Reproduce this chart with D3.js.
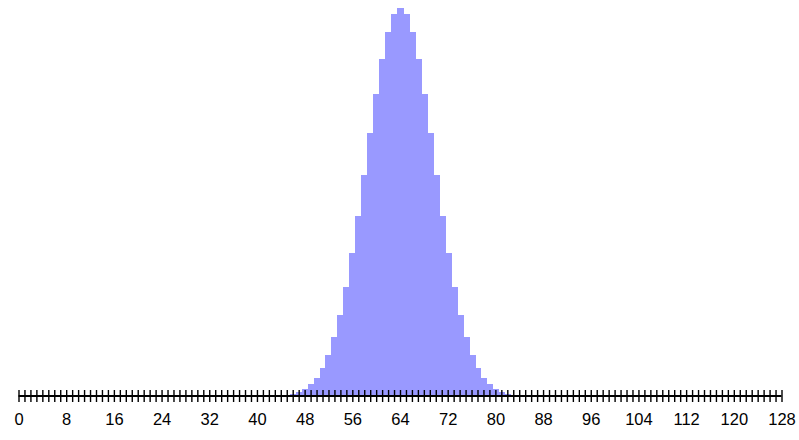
<!DOCTYPE html>
<html><head><meta charset="utf-8">
<script src="https://cdn.jsdelivr.net/npm/d3@7"></script>
<style>body{margin:0;background:#fff}svg{display:block}</style>
</head><body>
<script>
// categories 0..128, values (zero outside 44..84)
const firstNonZero = 44;
const probs = [0.00013,0.00025,0.00044,0.00077,0.0013,0.0021,0.0033,0.0050,0.0074,0.0106,
  0.0147,0.0198,0.0259,0.0327,0.0401,0.0476,0.0547,0.0611,0.0660,0.0692,0.0703,
  0.0692,0.0660,0.0611,0.0547,0.0476,0.0401,0.0327,0.0259,0.0198,0.0147,
  0.0106,0.0074,0.0050,0.0033,0.0021,0.0013,0.00077,0.00044,0.00025,0.00013];
const tickLabels = [0,8,16,24,32,40,48,56,64,72,80,88,96,104,112,120,128];
const nMax = 128;

const categories = d3.range(0, nMax + 1);
const data = categories.map(k => ({k, v: (k >= firstNonZero && k < firstNonZero + probs.length) ? probs[k - firstNonZero] : 0}));

const W = 799, H = 440;
const svg = d3.select("body").append("svg").attr("width", W).attr("height", H);
const x = d3.scaleLinear().domain([0, nMax]).range([18.5, 781.5]);
const bw = x(1) - x(0);
const y = d3.scaleLinear().domain([0, 0.0703]).range([396, 8]);

svg.append("g").attr("shape-rendering", "crispEdges")
  .selectAll("rect").data(data.filter(d => d.v > 0)).join("rect")
  .attr("x", d => Math.round(x(d.k) - bw / 2))
  .attr("width", d => Math.round(x(d.k) + bw / 2) - Math.round(x(d.k) - bw / 2) + 0.5)
  .attr("y", d => Math.round(y(d.v)))
  .attr("height", d => 396 - Math.round(y(d.v)))
  .attr("fill", "#9999ff");

const axis = d3.axisBottom(x).tickValues(categories).tickSize(6)
  .tickFormat(d => tickLabels.includes(d) ? d : "");
const g = svg.append("g").attr("transform", "translate(0,396)").call(axis);
g.select(".domain").attr("stroke", "#000").attr("stroke-width", 2).attr("d", `M${x(0)},0H${x(nMax)}`);
g.selectAll(".tick line").attr("y1", -6).attr("y2", 6).attr("stroke", "#000").attr("stroke-width", 1.4);
g.selectAll(".tick text").attr("y", 17).attr("font-family", "Liberation Sans, Arial, sans-serif")
  .attr("font-size", 16.5).attr("fill", "#000");
</script>
</body></html>
